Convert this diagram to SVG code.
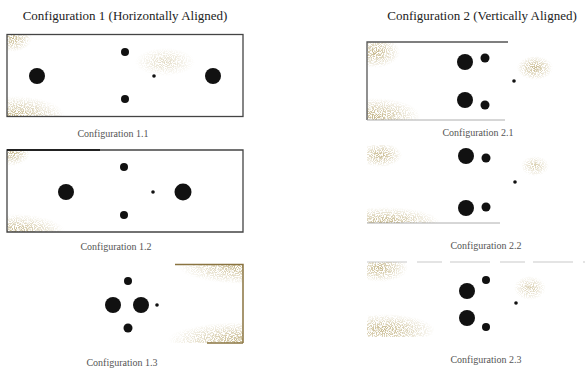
<svg xmlns="http://www.w3.org/2000/svg" width="585" height="374" viewBox="0 0 585 374">
<style>
.t{font-family:"Liberation Serif","Times New Roman",serif;font-size:13px;fill:#222}
.l{font-family:"Liberation Serif","Times New Roman",serif;font-size:10px;fill:#555}
.d{fill:#111}
.b{fill:none;stroke:#444;stroke-width:1.3}
.g{filter:url(#grain)}
</style>
<defs>
<filter id="grain" x="-5%" y="-5%" width="110%" height="110%">
<feTurbulence type="fractalNoise" baseFrequency="0.9" numOctaves="1" seed="4" result="n"/>
<feColorMatrix in="n" type="matrix" values="0 0 0 0 0.55 0 0 0 0 0.46 0 0 0 0 0.24 0 0 0 7 -3.0" result="d"/>
<feComposite in="d" in2="SourceGraphic" operator="in"/>
</filter>
<radialGradient id="rg">
<stop offset="0" stop-color="#000" stop-opacity="1"/>
<stop offset="1" stop-color="#000" stop-opacity="0"/>
</radialGradient>
<clipPath id="c11"><rect x="7" y="34" width="236" height="83"/></clipPath>
<clipPath id="c12"><rect x="7" y="150" width="236" height="82"/></clipPath>
<clipPath id="c13"><rect x="140" y="264" width="103" height="79"/></clipPath>
<clipPath id="c21"><rect x="367" y="42" width="218" height="78"/></clipPath>
<clipPath id="c22"><rect x="367" y="145" width="218" height="78"/></clipPath>
<clipPath id="c23"><rect x="367" y="262" width="218" height="75"/></clipPath>
</defs>
<rect width="585" height="374" fill="#fff"/>
<text class="t" x="125" y="20" text-anchor="middle">Configuration 1 (Horizontally Aligned)</text>
<text class="t" x="482" y="20" text-anchor="middle">Configuration 2 (Vertically Aligned)</text>

<g id="config-1-1">
<g clip-path="url(#c11)">
<ellipse class="g" cx="15" cy="116" rx="50" ry="20" fill="url(#rg)"/>
<ellipse class="g" cx="12" cy="38" rx="20" ry="14" fill="url(#rg)"/>
<ellipse class="g" cx="165" cy="62" rx="30" ry="14" fill="url(#rg)" opacity="0.5"/>
</g>
<rect class="b" x="7" y="34.5" width="236" height="82"/>
<circle class="d" cx="37" cy="76" r="8"/>
<circle class="d" cx="213" cy="76" r="8"/>
<circle class="d" cx="125" cy="52" r="4"/>
<circle class="d" cx="125" cy="99" r="4"/>
<circle class="d" cx="154" cy="76" r="1.8"/>
<text class="l" x="113" y="137" text-anchor="middle">Configuration 1.1</text>
</g>

<g id="config-1-2">
<g clip-path="url(#c12)">
<ellipse class="g" cx="15" cy="232" rx="50" ry="18" fill="url(#rg)"/>
<ellipse class="g" cx="12" cy="152" rx="18" ry="14" fill="url(#rg)"/>
</g>
<path class="b" d="M7 150 H243 V232 H7 Z"/>
<line x1="7" y1="150" x2="100" y2="150" stroke="#222" stroke-width="2"/>
<circle class="d" cx="66" cy="192" r="8"/>
<circle class="d" cx="183" cy="192" r="8.5"/>
<circle class="d" cx="124" cy="167" r="4"/>
<circle class="d" cx="124" cy="215" r="4"/>
<circle class="d" cx="153" cy="192" r="1.8"/>
<text class="l" x="116" y="250" text-anchor="middle">Configuration 1.2</text>
</g>

<g id="config-1-3">
<g clip-path="url(#c13)">
<ellipse class="g" cx="243" cy="266" rx="65" ry="18" fill="url(#rg)"/>
<ellipse class="g" cx="243" cy="340" rx="75" ry="18" fill="url(#rg)"/>
</g>
<path d="M175 264.5 H243 V343" fill="none" stroke="#8a7440" stroke-width="1.5"/>
<line x1="207" y1="343" x2="243" y2="343" stroke="#8a7440" stroke-width="1.5"/>
<circle class="d" cx="113" cy="305" r="8"/>
<circle class="d" cx="141" cy="305" r="8"/>
<circle class="d" cx="128" cy="281" r="4"/>
<circle class="d" cx="128" cy="328" r="4.5"/>
<circle class="d" cx="157" cy="305" r="1.8"/>
<text class="l" x="122" y="366" text-anchor="middle">Configuration 1.3</text>
</g>

<g id="config-2-1">
<g clip-path="url(#c21)">
<ellipse class="g" cx="375" cy="52" rx="25" ry="16" fill="url(#rg)"/>
<ellipse class="g" cx="375" cy="116" rx="45" ry="18" fill="url(#rg)"/>
<ellipse class="g" cx="535" cy="68" rx="18" ry="12" fill="url(#rg)"/>
</g>
<path d="M367 120 V42 H508" fill="none" stroke="#555" stroke-width="1.3"/>
<line x1="367" y1="120" x2="505" y2="120" stroke="#999" stroke-width="0.8"/>
<circle class="d" cx="465" cy="62" r="8"/>
<circle class="d" cx="485" cy="58" r="4.5"/>
<circle class="d" cx="514" cy="81" r="1.8"/>
<circle class="d" cx="465" cy="100" r="8"/>
<circle class="d" cx="485" cy="105" r="4.5"/>
<text class="l" x="478" y="136" text-anchor="middle">Configuration 2.1</text>
</g>

<g id="config-2-2">
<g clip-path="url(#c22)">
<ellipse class="g" cx="380" cy="155" rx="22" ry="12" fill="url(#rg)"/>
<ellipse class="g" cx="385" cy="222" rx="55" ry="15" fill="url(#rg)"/>
<ellipse class="g" cx="535" cy="166" rx="14" ry="10" fill="url(#rg)" opacity="0.7"/>
</g>
<line x1="367" y1="223" x2="500" y2="223" stroke="#999" stroke-width="0.8"/>
<circle class="d" cx="466" cy="156" r="8"/>
<circle class="d" cx="486" cy="158" r="4.5"/>
<circle class="d" cx="515" cy="182" r="1.8"/>
<circle class="d" cx="466" cy="208" r="8"/>
<circle class="d" cx="486" cy="207" r="4.5"/>
<text class="l" x="486" y="249" text-anchor="middle">Configuration 2.2</text>
</g>

<g id="config-2-3">
<g clip-path="url(#c23)">
<ellipse class="g" cx="380" cy="268" rx="28" ry="14" fill="url(#rg)"/>
<ellipse class="g" cx="385" cy="330" rx="50" ry="16" fill="url(#rg)"/>
<ellipse class="g" cx="530" cy="288" rx="16" ry="12" fill="url(#rg)" opacity="0.7"/>
</g>
<line x1="367" y1="262" x2="585" y2="262" stroke="#bbb" stroke-width="0.8" stroke-dasharray="40 10 25 8"/>
<circle class="d" cx="467" cy="291" r="8"/>
<circle class="d" cx="486" cy="280" r="4"/>
<circle class="d" cx="516" cy="303" r="1.8"/>
<circle class="d" cx="467" cy="318" r="8"/>
<circle class="d" cx="486" cy="327" r="4"/>
<text class="l" x="486" y="363" text-anchor="middle">Configuration 2.3</text>
</g>
</svg>
